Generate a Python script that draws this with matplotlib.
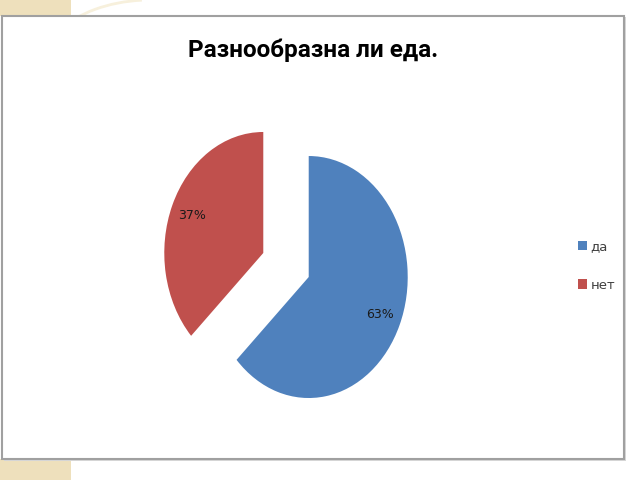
import matplotlib
matplotlib.use("Agg")
from matplotlib import pyplot as plt
from matplotlib.patches import Rectangle, Arc

# Данные
categories = ["да", "нет"]
values = [63, 37]
colors = ["#4F81BD", "#C0504D"]
title = "Разнообразна ли еда."

W, H = 640, 480
fig = plt.figure(figsize=(W / 100, H / 100), dpi=100)
fig.patch.set_facecolor("white")

# Фон слайда: кремовые уголки и рамка
cream = "#EEE0BC"
fig.patches.append(Rectangle((0, 1 - 16 / H), 71 / W, 16 / H, transform=fig.transFigure,
                             facecolor=cream, edgecolor="none", zorder=0))
fig.patches.append(Rectangle((0, 0), 71 / W, 21 / H, transform=fig.transFigure,
                             facecolor=cream, edgecolor="none", zorder=0))
fig.patches.append(Arc((150 / W, 1 - 70 / H), 220 / W, 140 / H, theta1=95, theta2=150,
                       transform=fig.transFigure, color="#F7F0DC", lw=2, zorder=0))
# тень
fig.patches.append(Rectangle((4 / W, 1 - 461 / H), 622 / W, 444 / H, transform=fig.transFigure,
                             facecolor="#D8D8D8", edgecolor="none", zorder=1))
fig.patches.append(Rectangle((2 / W, 1 - 459 / H), 622 / W, 443 / H, transform=fig.transFigure,
                             facecolor="white", edgecolor="#A0A0A0", lw=1.5, zorder=2))

# Заголовок
fig.text(313 / W, 1 - 50 / H, title, ha="center", va="center", fontsize=17.5,
         fontweight="bold", family=["Roboto", "DejaVu Sans"],
         color="black", zorder=5)

# Круговая диаграмма (эллипс: rx=99px, ry=121px)
cx, cy, rx, ry = 286, 265, 99, 121
ax = fig.add_axes([(cx - 1.5 * rx) / W, (H - cy - 1.5 * ry) / H, 3 * rx / W, 3 * ry / H])
ax.set_zorder(3)
wedges, texts, autotexts = ax.pie(values, colors=colors, startangle=90, counterclock=False,
                                  explode=[0.25, 0.25], autopct="%d%%", pctdistance=0.78,
                                  textprops={"fontsize": 9, "color": "#1A1A1A"})
ax.set_aspect("auto")
ax.set_xlim(-1.5, 1.5)
ax.set_ylim(-1.5, 1.5)
ax.axis("off")

# Легенда
fig.legend(wedges, categories, loc="center left", bbox_to_anchor=(566 / W, 1 - 266 / H),
           frameon=False, fontsize=9.5, handlelength=0.7, handleheight=0.7,
           handletextpad=0.25, labelspacing=1.9, labelcolor="#404040")

fig.savefig("out.png", dpi=100)
